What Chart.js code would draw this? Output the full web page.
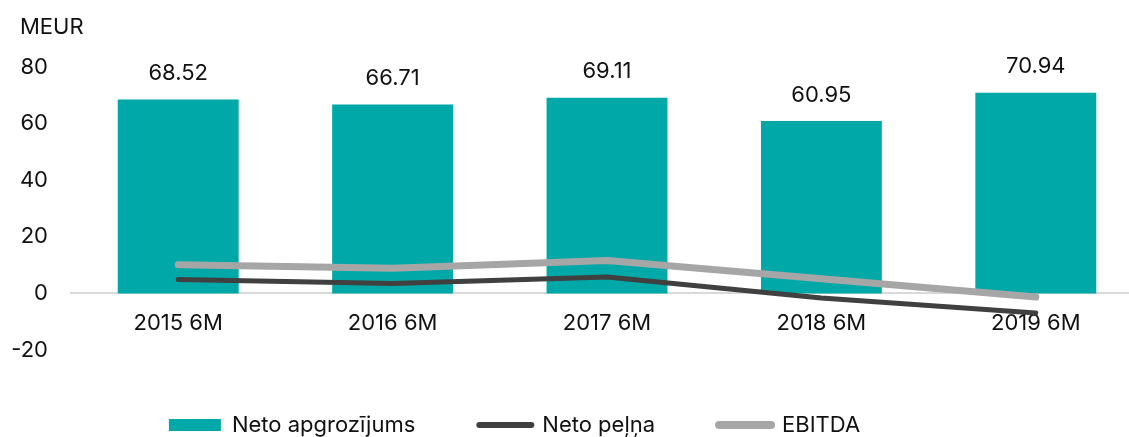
<!DOCTYPE html>
<html>
<head>
<meta charset="utf-8">
<script src="https://cdn.jsdelivr.net/npm/chart.js@4.4.1/dist/chart.umd.min.js"></script>
<style>
  html, body { margin: 0; padding: 0; overflow: hidden; background: #fff; }
  #wrap { position: relative; width: 1259px; height: 446px; margin-left: -114px; }
</style>
</head>
<body>
<div id="wrap"><canvas id="combochart"></canvas></div>
<script>
var periods = ["2015 6M", "2016 6M", "2017 6M", "2018 6M", "2019 6M"];
var revenue = [68.52, 66.71, 69.11, 60.95, 70.94];
var netProfit = [4.9, 3.5, 5.8, -1.6, -6.9];
var ebitda = [10.1, 8.9, 11.6, 5.2, -1.3];
var yTicks = [-20, 0, 20, 40, 60, 80];
var unitLabel = "MEUR";

var fontName = "Inter, 'DejaVu Sans', sans-serif";

// value labels above the bars (bar dataset is index 2)
var barLabels = {
  id: "barLabels",
  afterDatasetsDraw(chart) {
    let ctx = chart.ctx;
    let meta = chart.getDatasetMeta(2);
    ctx.save();
    ctx.font = "22px " + fontName;
    ctx.fillStyle = "#111";
    ctx.textAlign = "center";
    ctx.textBaseline = "middle";
    meta.data.forEach((bar, i) => {
      ctx.fillText(revenue[i].toFixed(2), bar.x, bar.y - 26);
    });
    ctx.restore();
  },
};

// unit caption top-left
var unitCaption = {
  id: "unitCaption",
  afterDraw(chart) {
    let ctx = chart.ctx;
    ctx.save();
    ctx.font = "22px " + fontName;
    ctx.fillStyle = "#111";
    ctx.textAlign = "left";
    ctx.textBaseline = "middle";
    ctx.fillText(unitLabel, 134, 27);
    ctx.restore();
  },
};

let ctx = document.getElementById("combochart").getContext("2d");

let chart = new Chart(ctx, {
  type: "bar",
  data: {
    labels: periods,
    datasets: [
      {
        type: "line",
        label: "EBITDA",
        data: ebitda,
        borderColor: "#A6A6A6",
        backgroundColor: "#A6A6A6",
        borderWidth: 7,
        borderCapStyle: "round",
        borderJoinStyle: "round",
        pointRadius: 0,
        tension: 0,
        order: 1,
      },
      {
        type: "line",
        label: "Neto peļņa",
        data: netProfit,
        borderColor: "#404040",
        backgroundColor: "#404040",
        borderWidth: 5,
        borderCapStyle: "round",
        borderJoinStyle: "round",
        pointRadius: 0,
        tension: 0,
        order: 2,
      },
      {
        label: "Neto apgrozījums",
        data: revenue,
        backgroundColor: "#00A9A8",
        barPercentage: 0.564,
        categoryPercentage: 1.0,
        order: 3,
      },
    ],
  },
  options: {
    responsive: true,
    maintainAspectRatio: false,
    animation: false,
    layout: {
      padding: { top: 67, left: 0, right: 2, bottom: 0 },
    },
    scales: {
      x: {
        position: { y: 0 },
        grid: { display: false, drawTicks: false },
        border: { display: true, color: "#D9D9D9", width: 2 },
        ticks: {
          color: "#111",
          padding: 17,
          font: { family: fontName, size: 22 },
        },
      },
      y: {
        min: -20,
        max: 80,
        afterBuildTicks: (scale) => {
          scale.ticks = yTicks.map((v) => ({ value: v }));
        },
        afterFit: (scale) => {
          scale.width = 185;
        },
        grid: { display: false, drawTicks: false },
        border: { display: false },
        ticks: {
          color: "#111",
          padding: 23,
          font: { family: fontName, size: 22 },
        },
      },
    },
    plugins: {
      tooltip: { enabled: false },
      legend: {
        position: "bottom",
        labels: {
          usePointStyle: true,
          pointStyleWidth: 52,
          boxHeight: 12,
          padding: 64,
          color: "#111",
          font: { family: fontName, size: 22 },
          generateLabels: (chart) => {
            let ds = chart.data.datasets;
            let order = [2, 1, 0];
            return order.map((i) => {
              let isBar = !ds[i].type;
              return {
                text: ds[i].label,
                datasetIndex: i,
                pointStyle: isBar ? "rect" : "line",
                fillStyle: ds[i].backgroundColor,
                strokeStyle: isBar ? ds[i].backgroundColor : ds[i].borderColor,
                lineWidth: isBar ? 0 : (i === 0 ? 8 : 6),
                lineCap: "round",
                fontColor: "#111",
                hidden: false,
              };
            });
          },
        },
      },
    },
  },
  plugins: [barLabels, unitCaption],
});
</script>
</body>
</html>
